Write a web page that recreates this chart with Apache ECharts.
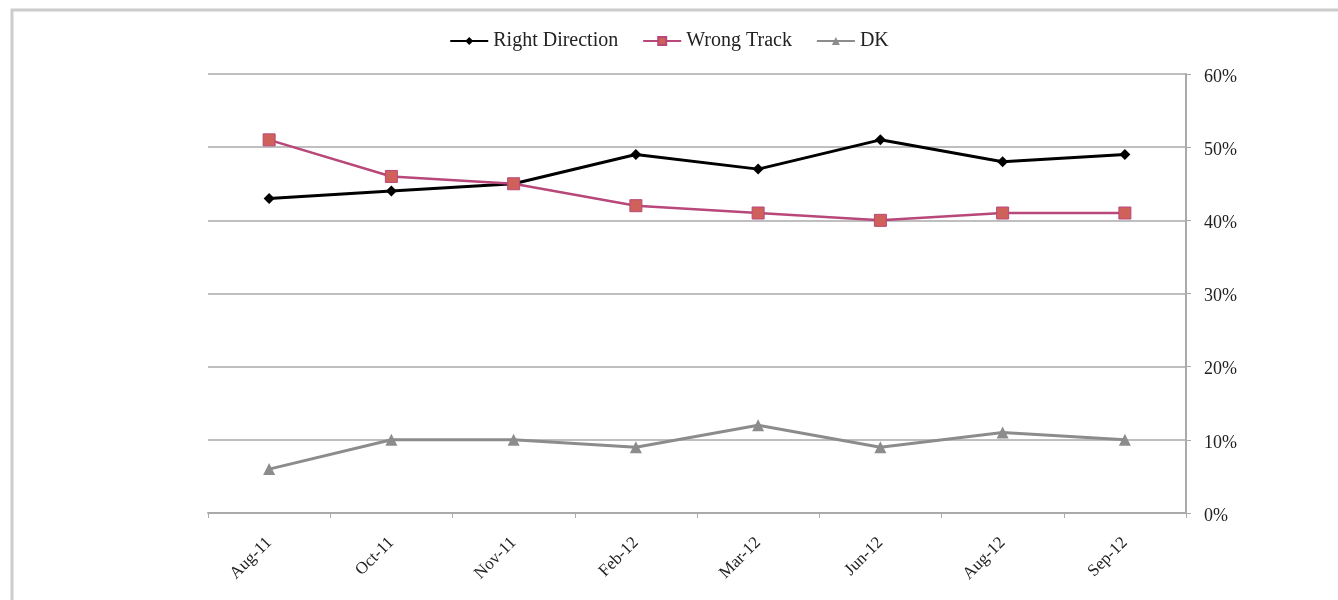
<!DOCTYPE html>
<html>
<head>
<meta charset="utf-8">
<script src="https://cdn.jsdelivr.net/npm/echarts@6/dist/echarts.min.js"></script>
<style>
html,body{margin:0;padding:0;background:#fff;}
#c{width:1338px;height:600px;}
</style>
</head>
<body>
<div id="c"></div>
<script>
var categories = ['Aug-11','Oct-11','Nov-11','Feb-12','Mar-12','Jun-12','Aug-12','Sep-12'];
var rightDirection = [43,44,45,49,47,51,48,49];
var wrongTrack = [51,46,45,42,41,40,41,41];
var dk = [6,10,10,9,12,9,11,10];
var yTicks = [0,10,20,30,40,50,60];

var chart = echarts.init(document.getElementById('c'));
var font = 'Liberation Serif';
chart.setOption({
  animation:false,
  backgroundColor:'#fff',
  textStyle:{fontFamily:font},
  graphic:[{type:'rect',shape:{x:12,y:10,width:1340,height:620},style:{fill:null,stroke:'#cccccc',lineWidth:3},silent:true,z:-1}],
  legend:{
    top:26,left:'center',itemGap:24,itemWidth:38,itemHeight:10,
    textStyle:{fontFamily:font,fontSize:20,color:'#222'},
    data:['Right Direction','Wrong Track','DK']
  },
  grid:{left:208,right:152,top:74,bottom:87},
  xAxis:{
    type:'category',data:categories,boundaryGap:true,
    axisLine:{lineStyle:{color:'#aaaaaa',width:2}},
    axisTick:{show:true,length:5,lineStyle:{color:'#aaaaaa'}},
    axisLabel:{rotate:45,fontFamily:font,fontSize:17,color:'#222',margin:27}
  },
  yAxis:{
    type:'value',position:'right',min:0,max:60,interval:10,
    axisLine:{show:true,lineStyle:{color:'#aaaaaa',width:2}},
    axisTick:{show:true,length:5,lineStyle:{color:'#aaaaaa'}},
    splitLine:{lineStyle:{color:'#aaaaaa',width:1.5}},
    axisLabel:{fontFamily:font,fontSize:18,color:'#222',margin:18,
      formatter:function(v){return '{a|'+v+'%}';},
      rich:{a:{fontFamily:font,fontSize:18,color:'#222',padding:[6,0,0,0]}}}
  },
  series:[
    {name:'Right Direction',type:'line',data:rightDirection,symbol:'diamond',symbolSize:11,
     lineStyle:{color:'#000',width:3},itemStyle:{color:'#000'}},
    {name:'Wrong Track',type:'line',data:wrongTrack,symbol:'rect',symbolSize:12,
     lineStyle:{color:'#b8477a',width:2.5},itemStyle:{color:'#d0605a',borderColor:'#b8477a',borderWidth:1}},
    {name:'DK',type:'line',data:dk,symbol:'triangle',symbolSize:12,
     lineStyle:{color:'#8c8c8c',width:3},itemStyle:{color:'#8c8c8c'}}
  ]
});
</script>
</body>
</html>
